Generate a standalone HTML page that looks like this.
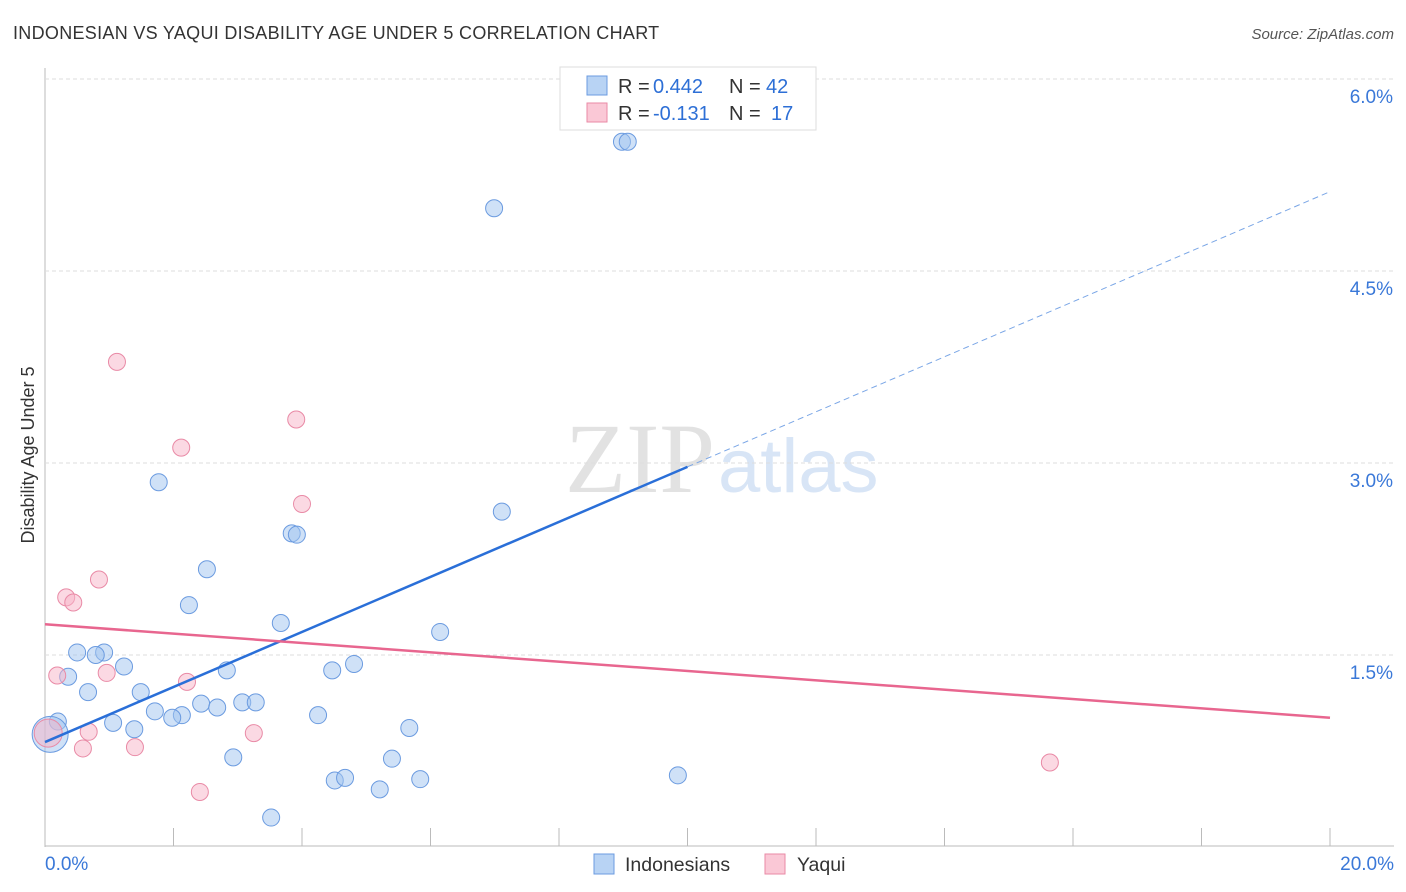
<!DOCTYPE html>
<html><head><meta charset="utf-8"><style>
body{margin:0;background:#fff;font-family:"Liberation Sans",sans-serif;}
svg{display:block}
</style></head><body>
<svg id="c" width="1406" height="892">
<text x="13" y="39" font-size="18" letter-spacing="0.3" fill="#333">INDONESIAN VS YAQUI DISABILITY AGE UNDER 5 CORRELATION CHART</text>
<text x="1394" y="39" font-size="15" fill="#555" font-style="italic" text-anchor="end">Source: ZipAtlas.com</text>
<text x="715" y="492" font-size="100" fill="#e2e2e2" text-anchor="end" font-family="Liberation Serif,serif">ZIP</text>
<text x="718" y="492" font-size="76" fill="#d8e5f6">atlas</text>
<text transform="translate(34,455) rotate(-90)" font-size="18" fill="#333" text-anchor="middle">Disability Age Under 5</text>
<g id="grid"></g><g id="marks"></g>
<g>
<rect x="560" y="67" width="256" height="63" fill="#fff" stroke="#ddd"/>
<rect x="587" y="76" width="20" height="19" fill="#b8d3f4" stroke="#6b9be0"/>
<rect x="587" y="103" width="20" height="19" fill="#fac8d6" stroke="#e98aa6"/>
<text x="618" y="93" font-size="20" fill="#333">R = </text><text x="653" y="93" font-size="20" fill="#2d6fd6">0.442</text>
<text x="729" y="93" font-size="20" fill="#333">N = </text><text x="766" y="93" font-size="20" fill="#2d6fd6">42</text>
<text x="618" y="120" font-size="20" fill="#333">R = </text><text x="653" y="120" font-size="20" fill="#2d6fd6">-0.131</text>
<text x="729" y="120" font-size="20" fill="#333">N = </text><text x="771" y="120" font-size="20" fill="#2d6fd6">17</text>
</g>
<g>
<rect x="594" y="854" width="20" height="20" fill="#b8d3f4" stroke="#6b9be0"/>
<text x="625" y="871" font-size="19.5" fill="#333">Indonesians</text>
<rect x="765" y="854" width="20" height="20" fill="#fac8d6" stroke="#e98aa6"/>
<text x="797" y="871" font-size="19.5" fill="#333">Yaqui</text>
</g>
</svg>
<script>
const yTicks=[1.5,3.0,4.5,6.0];
const xTickLabels=["0.0%","20.0%"];
const blueX=[8.98,9.07,6.99,1.77,7.11,3.84,3.92,2.52,2.24,3.67,6.15,0.50,0.92,0.79,1.23,4.81,4.47,0.36,2.83,0.67,1.49,1.71,2.13,1.98,2.43,2.68,3.07,3.28,4.25,1.06,1.39,5.67,0.20,0.08,2.93,5.40,4.51,4.67,5.84,5.21,9.85,3.52];
const blueY=[5.51,5.51,4.99,2.85,2.62,2.45,2.44,2.17,1.89,1.75,1.68,1.52,1.52,1.50,1.41,1.43,1.38,1.33,1.38,1.21,1.21,1.06,1.03,1.01,1.12,1.09,1.13,1.13,1.03,0.97,0.92,0.93,0.98,0.88,0.70,0.69,0.52,0.54,0.53,0.45,0.56,0.23];
const pinkX=[1.12,3.91,2.12,4.00,0.84,0.33,0.44,0.19,0.96,2.21,0.68,3.25,0.59,1.40,2.41,15.64,0.05];
const pinkY=[3.79,3.34,3.12,2.68,2.09,1.95,1.91,1.34,1.36,1.29,0.90,0.89,0.77,0.78,0.43,0.66,0.89];
const blueTrend=[0.82,5.12];
const pinkTrend=[1.74,1.01];
const sx=v=>45+v*64.25, sy=v=>847-v*128;
const NS="http://www.w3.org/2000/svg";
const g=document.getElementById('grid'), m=document.getElementById('marks');
function mk(p,tag,a){const e=document.createElementNS(NS,tag);for(const k in a)e.setAttribute(k,a[k]);p.appendChild(e);return e;}
mk(g,'line',{x1:45,y1:68,x2:45,y2:847,stroke:'#bbb'});
mk(g,'line',{x1:45,y1:846,x2:1394,y2:846,stroke:'#bbb'});
yTicks.forEach(t=>{
 const l=mk(g,'line',{x1:45,y1:sy(t),x2:1394,y2:sy(t),stroke:'#ddd','stroke-dasharray':'4,3'});
 
 
 const tx=mk(g,'text',{x:1393,y:sy(t)+24,'font-size':19,fill:'#3a78d8','text-anchor':'end'});
 tx.textContent=t.toFixed(1)+'%';
 
 
});
for(let k=1;k<=10;k++){const l=mk(g,'line',{x1:sx(2*k),y1:828,x2:sx(2*k),y2:846,stroke:'#bbb'});
 
 }
[[0,'start',45],[20,'end',1394]].forEach((d,i)=>{const tx=mk(g,'text',{x:d[2],y:870,'font-size':19,fill:'#3a78d8','text-anchor':d[1]});tx.textContent=xTickLabels[i];
 
 });
function pts(X,Y,fill,stroke,name){X.forEach((x,i)=>{const r=(i===X.length-1&&name==='pink-point')?14:(name==='blue-point'&&i===33?18:8.5);
 const c=mk(m,'circle',{cx:sx(x),cy:sy(Y[i]),r:r,fill:fill,stroke:stroke,'stroke-width':1});
 
 });}
pts(blueX,blueY,'rgba(160,196,240,0.5)','#6b9be0','blue-point');
pts(pinkX,pinkY,'rgba(248,180,200,0.5)','#e98aa6','pink-point');
const b=i=>blueTrend[0]+(blueTrend[1]-blueTrend[0])*i/20;
let l=mk(m,'line',{x1:sx(0),y1:sy(b(0)),x2:sx(10),y2:sy(b(10)),stroke:'#2a6fd8','stroke-width':2.5});


l=mk(m,'line',{x1:sx(10),y1:sy(b(10)),x2:sx(20),y2:sy(b(20)),stroke:'#7aa6e6','stroke-width':1,'stroke-dasharray':'6,4'});


l=mk(m,'line',{x1:sx(0),y1:sy(pinkTrend[0]),x2:sx(20),y2:sy(pinkTrend[1]),stroke:'#e8668f','stroke-width':2.5});


</script>
</body></html>
